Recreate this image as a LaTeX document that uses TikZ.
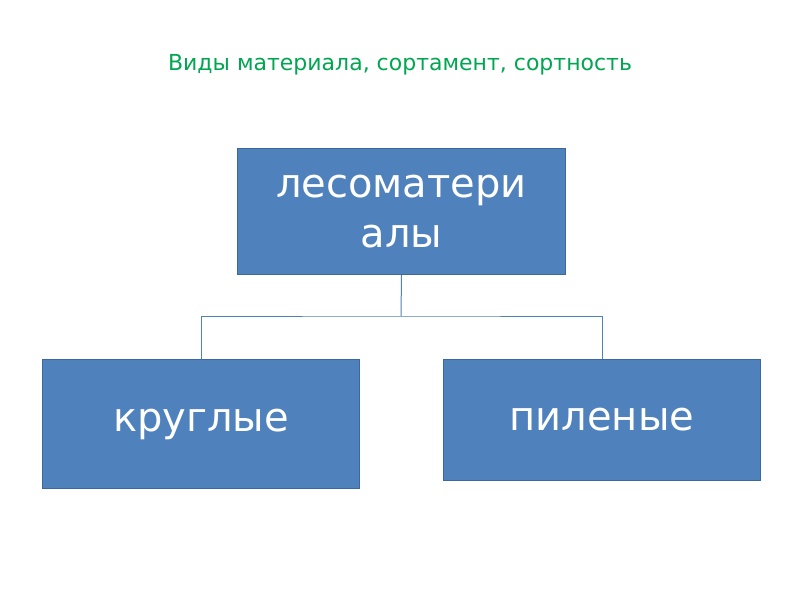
\documentclass[tikz,border=0pt]{standalone}
\usepackage{fontspec}
\setmainfont{DejaVu Sans}
\begin{document}
\begin{tikzpicture}[x=1pt,y=-1pt,
  box/.style={draw=blue!40!black!60!cyan!0!white!0!black!0, fill=boxblue, draw=boxedge, line width=1pt, text=white, font=\fontsize{40}{50}\selectfont, align=center, anchor=north west, inner sep=0pt},
  link/.style={draw=boxblue, line width=1pt}]
\definecolor{boxblue}{RGB}{79,129,189}
\definecolor{boxedge}{RGB}{61,104,156}
\definecolor{titlegreen}{RGB}{0,166,81}
\useasboundingbox (0,0) rectangle (800,600);
\fill[white] (0,0) rectangle (800,600);
\node (title) at (400,65) {\color{titlegreen}\fontsize{22}{26}\selectfont Виды материала, сортамент, сортность};
\node[box, minimum width=328pt, minimum height=126pt] (top) at (237,148) {лесоматери\\алы};
\node[box, minimum width=317pt, minimum height=129pt] (left) at (42,359) {круглые};
\node[box, minimum width=317pt, minimum height=121pt] (right) at (443,359) {пиленые};
\coordinate (j) at (401,316);
\draw[link] (top.south) -- (j);
\draw[link] (left.north) |- (j) -| (right.north);
\end{tikzpicture}
\end{document}
